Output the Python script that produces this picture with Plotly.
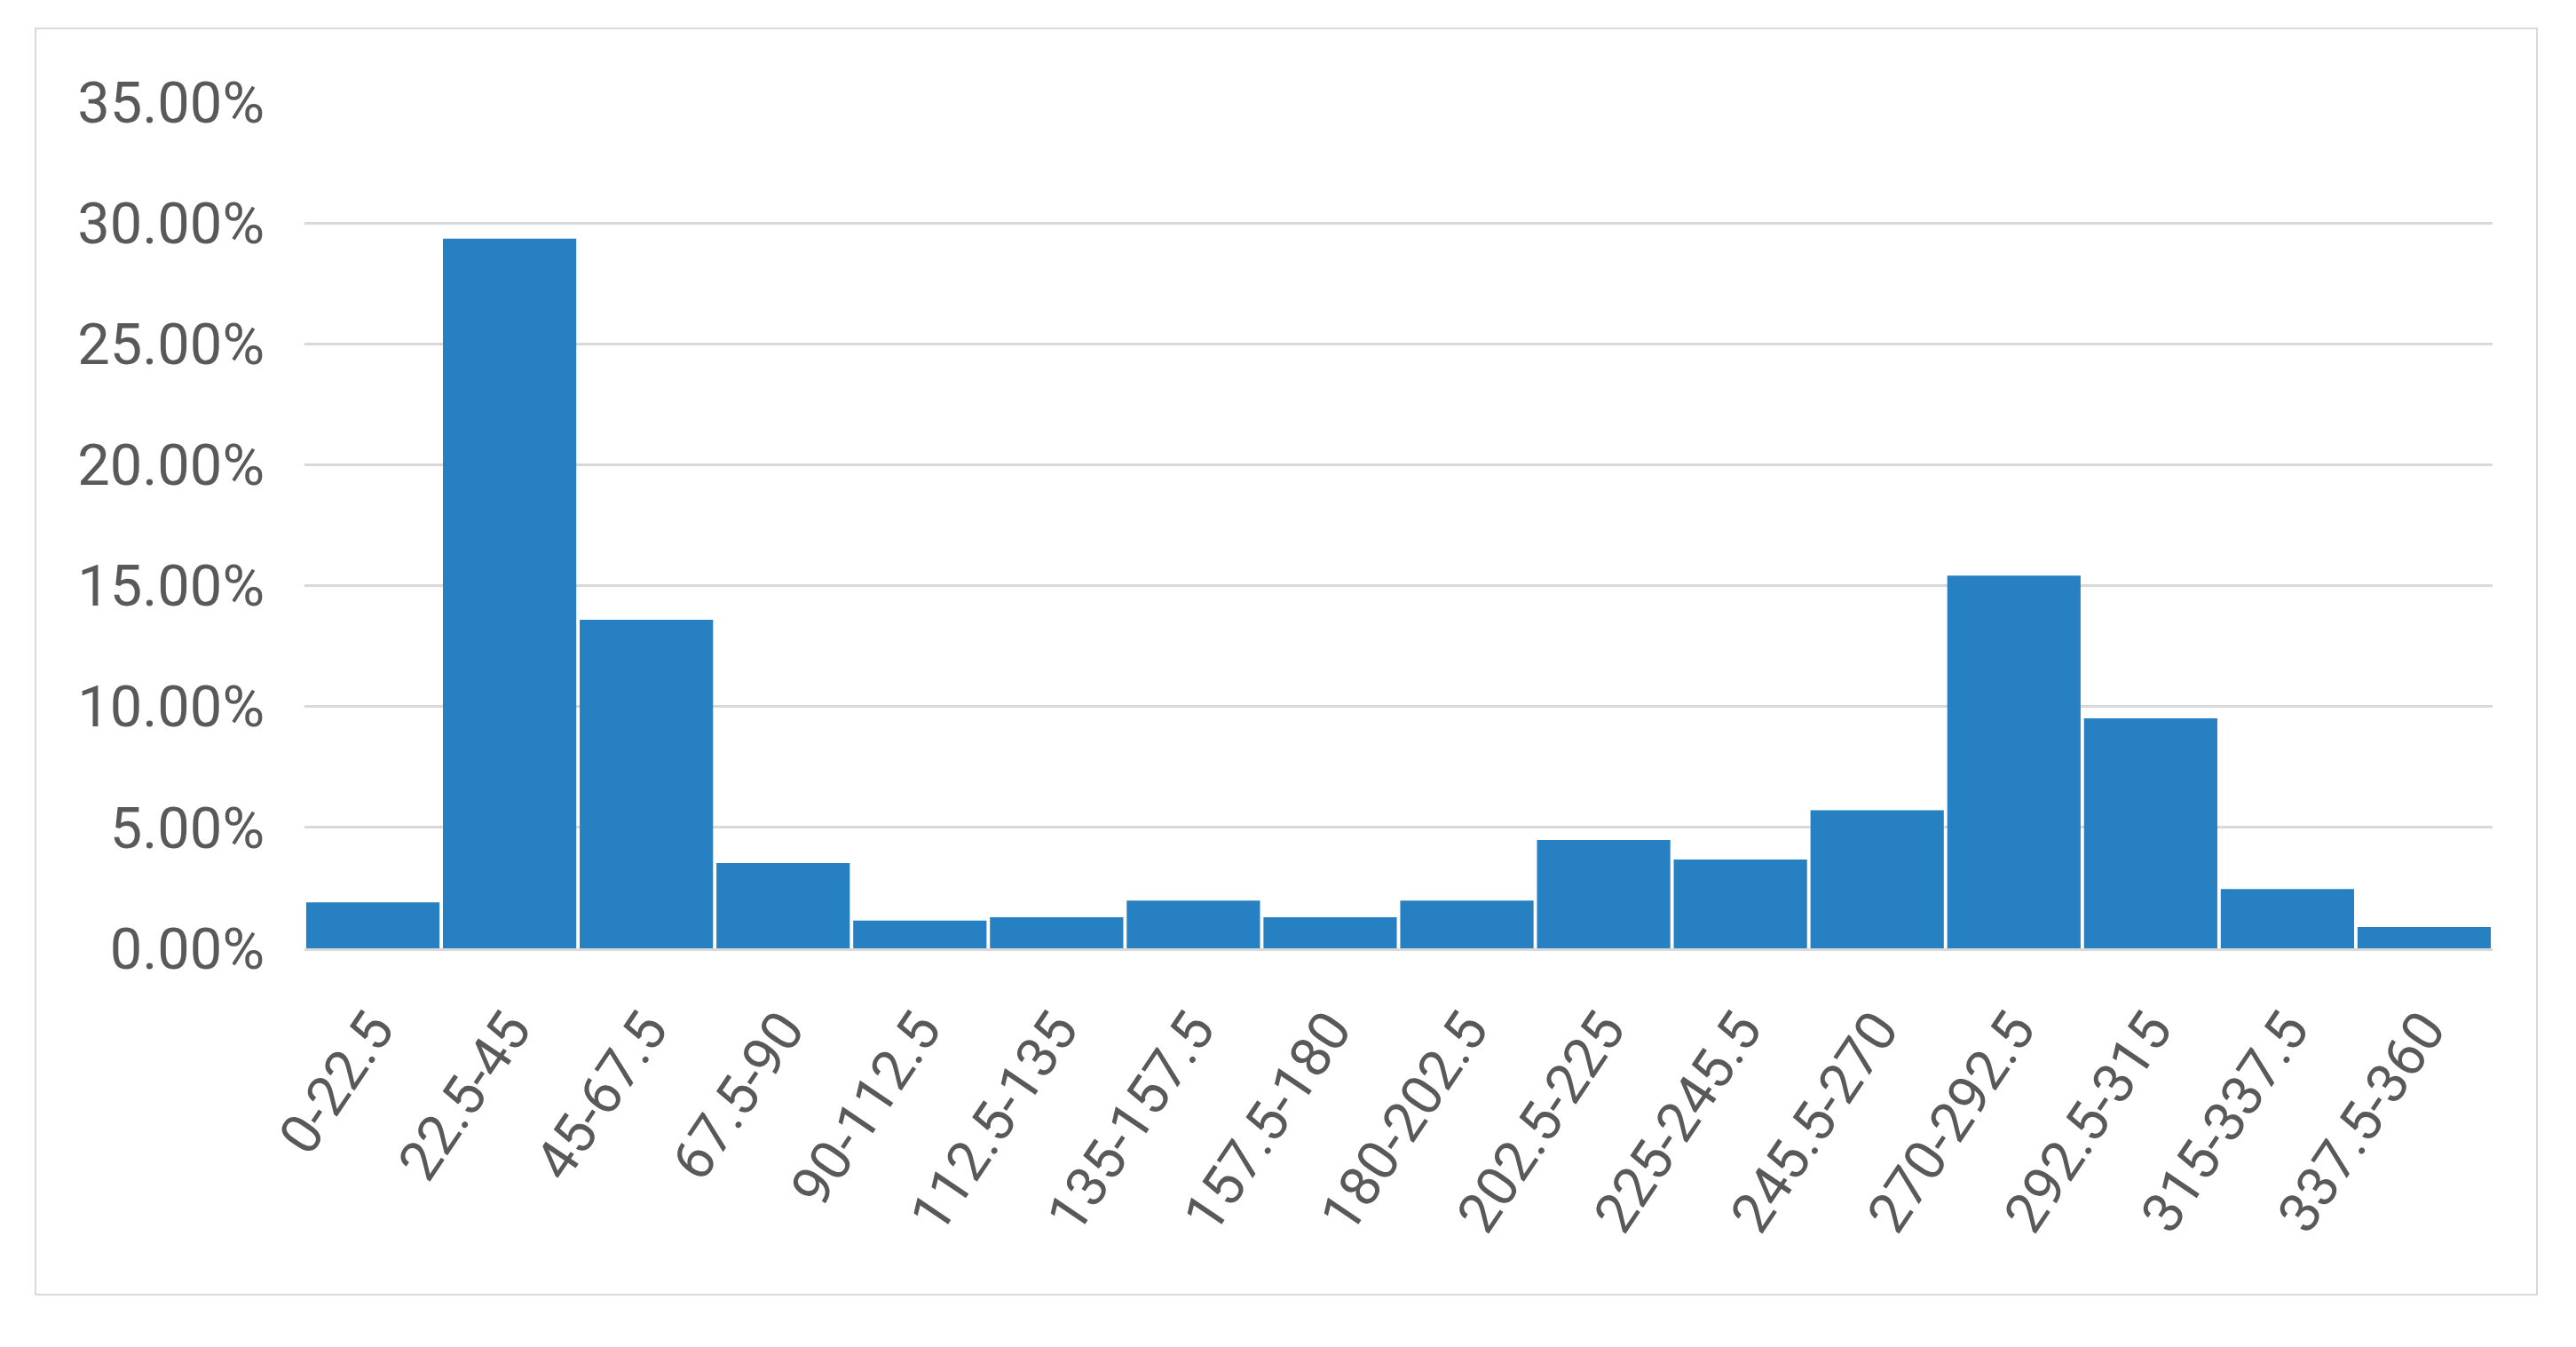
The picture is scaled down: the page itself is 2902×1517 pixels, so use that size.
import plotly.graph_objects as go

# wind direction bins (degrees) and share of observations
bins = ["0-22.5", "22.5-45", "45-67.5", "67.5-90", "90-112.5", "112.5-135",
        "135-157.5", "157.5-180", "180-202.5", "202.5-225", "225-245.5",
        "245.5-270", "270-292.5", "292.5-315", "315-337.5", "337.5-360"]
share = [0.0190, 0.2935, 0.1359, 0.0353, 0.0115, 0.0129,
         0.0197, 0.0129, 0.0197, 0.0448, 0.0367,
         0.0571, 0.1542, 0.0951, 0.0245, 0.0088]

y_ticks = [0, 0.05, 0.10, 0.15, 0.20, 0.25, 0.30, 0.35]

BAR = "#2780c1"
GRID = "#d9d9d9"
TXT = "#595959"
FONT = "Roboto, Arial, sans-serif"

fig = go.Figure(
    go.Bar(x=bins, y=share, marker_color=BAR, marker_line_width=0)
)

# the page body adds an 8px offset, so everything is placed in page px minus 8
OFF = 8
W, H = 2902, 1517
L, T = 343 - OFF, 115 - OFF
R = W - (2808 - OFF)
B = H - (1068 - OFF)
pw, ph = W - L - R, H - T - B

# outer chart border (page px 40..2858, 32..1458)
fig.add_shape(
    type="rect", xref="paper", yref="paper",
    x0=(40 - OFF - L) / pw, x1=(2858 - OFF - L) / pw,
    y0=(H - B - (1458 - OFF)) / ph, y1=(H - B - (32 - OFF)) / ph,
    line=dict(color=GRID, width=2), fillcolor="rgba(0,0,0,0)", layer="below",
)

fig.update_layout(
    width=W, height=H,
    margin=dict(l=L, r=R, t=T, b=B),
    paper_bgcolor="white", plot_bgcolor="white",
    font=dict(family=FONT, size=65, color=TXT),
    bargap=0.025,
    showlegend=False,
    xaxis=dict(
        tickangle=-56, showgrid=False,
        showline=True, linecolor=GRID, linewidth=3,
        ticks="", ticklabelstandoff=26,
        tickfont=dict(size=63),
    ),
    yaxis=dict(
        range=[0, 0.35], tickvals=y_ticks, tickformat=".2%",
        showgrid=True, gridcolor=GRID, gridwidth=3,
        zeroline=False, showline=False,
        ticks="", ticklabelstandoff=44,
    ),
)

fig.write_html("out.html")
